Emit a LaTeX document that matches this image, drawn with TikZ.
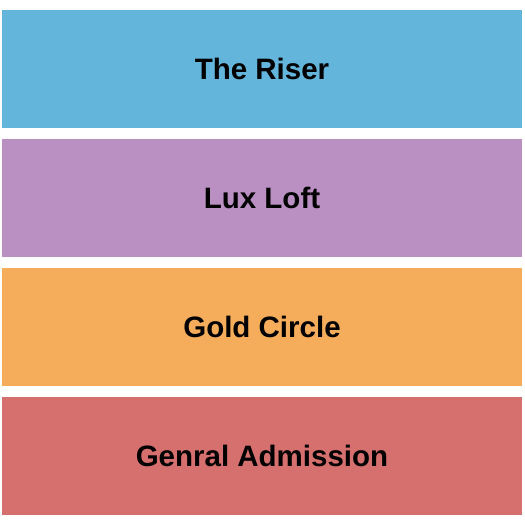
\documentclass[tikz,border=0pt]{standalone}
\usepackage{fontspec}
\setmainfont{Liberation Sans}
\usetikzlibrary{positioning}
\definecolor{riserBlue}{HTML}{63B5DC}
\definecolor{loftPurple}{HTML}{BA90C2}
\definecolor{goldOrange}{HTML}{F5AD5B}
\definecolor{genRed}{HTML}{D6706E}
\tikzstyle{band} = [rectangle, minimum width=520pt, minimum height=118pt, inner sep=0pt, text centered, font=\fontsize{29.5}{34}\selectfont\bfseries, text=black]
\begin{document}
\begin{tikzpicture}[node distance=129pt]

    \useasboundingbox (0,0) rectangle (525pt,-525pt);

    \node (riser) [band, fill=riserBlue] at (262pt,-69pt) {The Riser};
    \node (loft) [band, fill=loftPurple, below of=riser] {Lux Loft};
    \node (gold) [band, fill=goldOrange, below of=loft] {Gold Circle};
    \node (genAdm) [band, fill=genRed, below of=gold] {Genral Admission};

\end{tikzpicture}
\end{document}
